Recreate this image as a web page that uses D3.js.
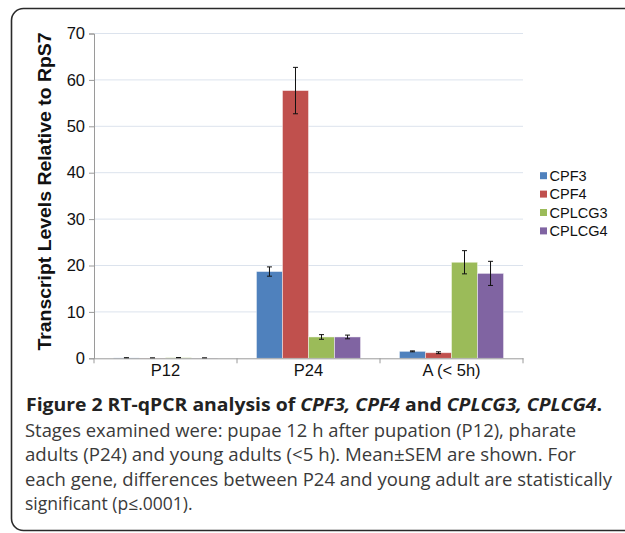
<!DOCTYPE html>
<html><head><meta charset="utf-8">
<script src="https://cdn.jsdelivr.net/npm/d3@7/dist/d3.min.js"></script>
<style>body{margin:0;background:#fff}svg{display:block}</style>
</head><body>
<svg id="c" width="625" height="533"></svg>
<script>
const categories = ["P12", "P24", "A (< 5h)"];
const seriesNames = ["CPF3", "CPF4", "CPLCG3", "CPLCG4"];
const seriesColors = ["#4F81BD", "#C0504D", "#9BBB59", "#8064A2"];
const CPF3 = [0.08, 18.7, 1.5];
const CPF4 = [0.05, 57.7, 1.2];
const CPLCG3 = [0.12, 4.6, 20.7];
const CPLCG4 = [0.05, 4.6, 18.3];
const CPF3_err = [0.04, 1.0, 0.1];
const CPF4_err = [0.03, 5.0, 0.2];
const CPLCG3_err = [0.05, 0.5, 2.5];
const CPLCG4_err = [0.03, 0.4, 2.6];
const yTicks = [0, 10, 20, 30, 40, 50, 60, 70];
const yTitle = "Transcript Levels Relative to RpS7";

const values = [CPF3, CPF4, CPLCG3, CPLCG4];
const errors = [CPF3_err, CPF4_err, CPLCG3_err, CPLCG4_err];

const svg = d3.select("#c");
const L = 94, R = 523, T = 33.5, B = 358.3;

// frame
svg.append("rect").attr("x", 11.5).attr("y", 8.5).attr("width", 650).attr("height", 522)
  .attr("rx", 12).attr("fill", "none").attr("stroke", "#2a2a2a").attr("stroke-width", 1.6);

const x = d3.scaleBand().domain(categories).range([L, R]).padding(0);
const bw = x.bandwidth();
const xs = d3.scaleBand().domain(seriesNames).range([bw * 0.136, bw * 0.864]).padding(0);
const y = d3.scaleLinear().domain([0, 70]).range([B, T]);

// gridlines
svg.append("g").selectAll("line").data(yTicks.slice(1)).join("line")
  .attr("x1", L).attr("x2", R).attr("y1", d => y(d)).attr("y2", d => y(d))
  .attr("stroke", "#DCE3ED").attr("stroke-width", 1);

// y axis
const yAxis = d3.axisLeft(y).tickValues(yTicks).tickSize(5).tickPadding(4);
const gy = svg.append("g").attr("transform", `translate(${L},0)`).call(yAxis);
gy.select(".domain").attr("stroke", "#9a9a9a");
gy.selectAll(".tick line").attr("stroke", "#9a9a9a");
gy.selectAll(".tick text").attr("font-family", "Liberation Sans, Arial, sans-serif")
  .attr("font-size", 16.5).attr("fill", "#111");

// bars
const groups = svg.append("g").selectAll("g").data(categories).join("g")
  .attr("transform", d => `translate(${x(d)},0)`);
seriesNames.forEach((s, si) => {
  groups.append("rect")
    .attr("x", xs(s)).attr("width", xs.bandwidth())
    .attr("y", (d, i) => y(values[si][i]))
    .attr("height", (d, i) => B - y(values[si][i]))
    .attr("fill", seriesColors[si])
    .attr("stroke", "rgba(255,255,255,0.55)").attr("stroke-width", 0.8);
});

// error bars
seriesNames.forEach((s, si) => {
  categories.forEach((c, i) => {
    const cx = x(c) + xs(s) + xs.bandwidth() / 2;
    const v = values[si][i], e = errors[si][i];
    const g = svg.append("g").attr("stroke", "#111").attr("stroke-width", 1);
    g.append("line").attr("x1", cx).attr("x2", cx).attr("y1", y(v + e)).attr("y2", y(v - e));
    g.append("line").attr("x1", cx - 2.5).attr("x2", cx + 2.5).attr("y1", y(v + e)).attr("y2", y(v + e));
    g.append("line").attr("x1", cx - 2.5).attr("x2", cx + 2.5).attr("y1", y(v - e)).attr("y2", y(v - e));
  });
});

// x axis
const xAxis = d3.axisBottom(x).tickSize(0).tickPadding(5);
const gx = svg.append("g").attr("transform", `translate(0,${B})`).call(xAxis);
gx.select(".domain").attr("stroke", "#9a9a9a");
gx.selectAll(".tick text").attr("font-family", "Liberation Sans, Arial, sans-serif")
  .attr("font-size", 16.5).attr("fill", "#111").attr("dy", "0.8em");
const bounds = categories.map(c => x(c)).concat([R]);
svg.append("g").selectAll("line").data(bounds).join("line")
  .attr("x1", d => d).attr("x2", d => d).attr("y1", B).attr("y2", B + 5)
  .attr("stroke", "#9a9a9a");

// y title
svg.append("text")
  .attr("transform", `translate(51,${(32 + 351) / 2}) rotate(-90)`)
  .attr("text-anchor", "middle")
  .attr("font-family", "Liberation Sans, Arial, sans-serif")
  .attr("font-weight", "bold").attr("font-size", 17.5).attr("fill", "#111")
  .attr("textLength", 318).attr("lengthAdjust", "spacingAndGlyphs")
  .text(yTitle);

// legend
const lg = svg.append("g").attr("transform", "translate(540,175.7)");
seriesNames.forEach((s, i) => {
  lg.append("rect").attr("x", 0).attr("y", i * 18.4 - 3.5).attr("width", 7).attr("height", 7)
    .attr("fill", seriesColors[i]);
  lg.append("text").attr("x", 9.5).attr("y", i * 18.4 + 5.3)
    .attr("font-family", "Liberation Sans, Arial, sans-serif").attr("font-size", 14.5)
    .attr("fill", "#111").text(s);
});

// caption
const capFont = "Open Sans, Noto Sans, sans-serif";
const t1 = svg.append("text").attr("x", 26).attr("y", 411)
  .attr("font-family", capFont).attr("font-size", 18.5).attr("font-weight", "bold").attr("fill", "#222")
  .attr("textLength", 576).attr("lengthAdjust", "spacingAndGlyphs");
[["Figure 2 RT-qPCR analysis of ", false], ["CPF3, CPF4", true], [" and ", false], ["CPLCG3, CPLCG4", true], [".", false]]
  .forEach(([t, it]) => t1.append("tspan").attr("font-style", it ? "italic" : "normal").text(t));

const body = [
  ["Stages examined were: pupae 12 h after pupation (P12), pharate", 551],
  ["adults (P24) and young adults (<5 h). Mean\u00B1SEM are shown. For", 551],
  ["each gene, differences between P24 and young adult are statistically", 587],
  ["significant (p\u2264.0001).", null]
];
body.forEach(([t, w], i) => {
  const el = svg.append("text").attr("x", 25).attr("y", 436.5 + i * 24.6)
    .attr("font-family", capFont).attr("font-size", 17.5).attr("fill", "#3a3a3a").text(t);
  if (w) el.attr("textLength", w).attr("lengthAdjust", "spacingAndGlyphs");
});
</script>
</body></html>
